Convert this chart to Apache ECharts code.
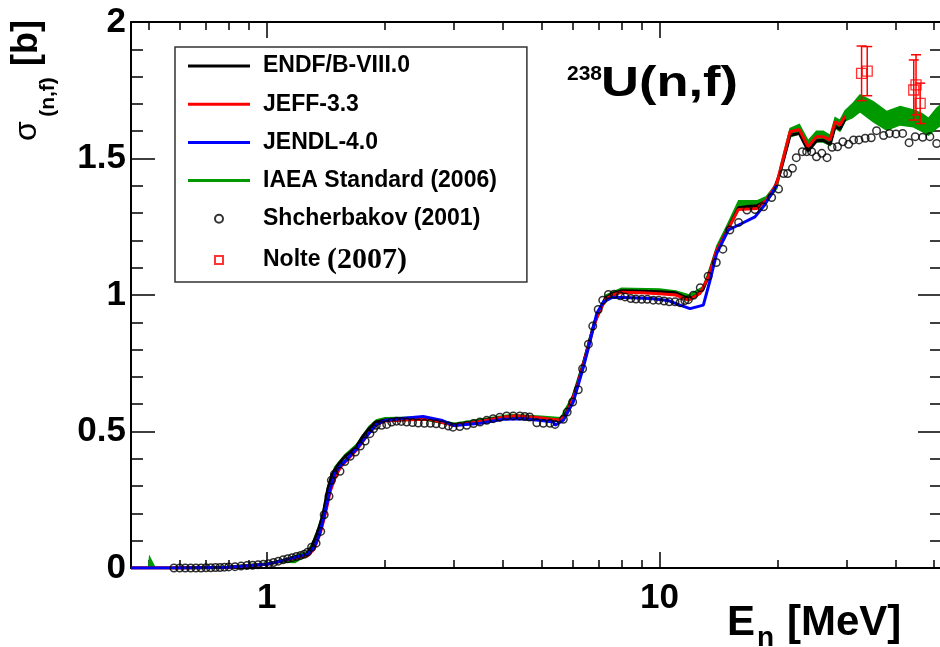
<!DOCTYPE html>
<html>
<head>
<meta charset="utf-8">
<script src="https://cdn.jsdelivr.net/npm/echarts@6/dist/echarts.min.js"></script>
<style>
  html, body { margin: 0; padding: 0; background: #fff; }
  #main { width: 940px; height: 647px; }
</style>
</head>
<body>
<div id="main"></div>
<script>
// energy range of the frame (MeV), log scale
const X_MIN = 0.451
const X_MAX = 52.4
const xMinorTicks = [0.5, 0.6, 0.7, 0.8, 0.9, 2, 3, 4, 5, 6, 7, 8, 9, 20, 30, 40, 50]

// ENDF/B-VIII.0
const endfE = [0.451,0.6,0.7,0.8,0.9,1.0,1.1,1.2,1.26,1.3,1.35,1.39,1.43,1.46,1.49,1.53,1.58,1.69,1.75,1.82,
  1.9,2.0,2.2,2.5,2.8,3.0,3.3,3.7,4.2,4.6,5.0,5.4,5.6,5.8,6.0,6.2,6.4,6.6,6.8,7.0,
  7.3,7.6,8.0,9.0,10.0,11.0,11.5,11.9,12.4,12.9,13.3,14.0,14.8,15.9,17.0,17.7,18.7,19.5,20.3,21.5,
  22.7,23.9,25.1,26.1,27.2,28.0,28.8,29.7]
const endfS = [0,0,0.001,0.003,0.008,0.014,0.028,0.042,0.05,0.075,0.135,0.195,0.29,0.335,0.36,0.385,0.408,0.443,0.48,0.51,
  0.535,0.542,0.545,0.548,0.535,0.525,0.53,0.545,0.555,0.553,0.548,0.54,0.542,0.57,0.62,0.68,0.75,0.82,0.89,0.94,
  0.99,1.005,1.016,1.014,1.012,1.008,0.995,0.985,0.998,1.02,1.066,1.164,1.231,1.32,1.325,1.327,1.345,1.38,1.45,1.585,
  1.592,1.528,1.565,1.567,1.552,1.618,1.607,1.645]

// JEFF-3.3
const jeffE = [0.451,0.6,0.8,1.0,1.1,1.2,1.27,1.32,1.37,1.41,1.45,1.5,1.55,1.6,1.7,1.8,1.9,2.0,2.3,2.6,
  3.0,3.5,4.0,4.3,4.8,5.3,5.6,5.8,6.0,6.2,6.4,6.6,6.8,7.0,7.3,7.6,8.0,9.0,10.0,11.0,
  11.84,12.68,13.31,13.98,14.83,15.87,17.7,18.75,19.9,20.3,21.5,22.7,23.9,25.1,26.1,27.2,28.0,28.8,29.7]
const jeffS = [0,0,0.003,0.014,0.026,0.038,0.045,0.07,0.13,0.2,0.28,0.34,0.375,0.395,0.435,0.485,0.525,0.538,0.543,0.545,
  0.522,0.537,0.552,0.558,0.552,0.545,0.542,0.565,0.615,0.675,0.745,0.815,0.885,0.935,0.985,1.0,1.01,1.008,1.005,1.0,
  0.981,1.006,1.066,1.164,1.231,1.313,1.317,1.348,1.41,1.458,1.598,1.606,1.543,1.58,1.58,1.568,1.635,1.623,1.656]

// JENDL-4.0
const jendlE = [0.451,0.6,0.8,1.0,1.1,1.2,1.27,1.32,1.36,1.4,1.45,1.49,1.53,1.6,1.7,1.8,1.9,2.0,2.2,2.5,
  2.8,3.0,3.5,4.0,4.5,5.0,5.37,5.42,5.69,6.03,6.4,6.6,6.92,7.2,7.6,8.5,9.5,10.5,11.28,11.96,
  12.93,13.45,13.98,14.97,16.19,17.5,18.5,19.9]
const jendlS = [0,0,0.003,0.014,0.027,0.042,0.05,0.075,0.12,0.19,0.29,0.345,0.37,0.398,0.44,0.485,0.525,0.54,0.548,0.555,
  0.54,0.522,0.53,0.545,0.547,0.54,0.535,0.523,0.541,0.608,0.736,0.81,0.932,0.975,0.992,0.99,0.987,0.98,0.963,0.95,
  0.963,1.054,1.152,1.238,1.262,1.286,1.329,1.403]

// IAEA Standard (2006), band low / high
const iaeaE = [0.5,0.503,0.52,0.6,0.8,1.0,1.1,1.18,1.26,1.3,1.35,1.39,1.43,1.49,1.58,1.69,1.82,1.9,2.0,2.5,
  3.0,3.7,4.2,5.0,5.6,6.0,6.4,6.8,7.3,8.0,10.0,11.0,11.9,12.9,13.3,14.0,14.8,15.9,17.7,18.7,
  19.9,20.3,21.5,22.7,23.9,25.1,26.1,27.2,28.0,28.8,29.7,31.0,32.4,35.0,37.9,41.0,44.3,46.5,48.4,50.8,52.4]
const iaeaLow = [0,0,0,0,0.002,0.012,0.022,0.02,0.045,0.07,0.13,0.19,0.285,0.355,0.403,0.44,0.505,0.53,0.538,0.543,
  0.522,0.54,0.55,0.545,0.538,0.615,0.745,0.885,0.985,1.012,1.008,1.002,0.98,1.015,1.06,1.16,1.23,1.315,1.322,1.34,
  1.39,1.445,1.58,1.59,1.525,1.56,1.56,1.548,1.612,1.6,1.638,1.65,1.672,1.635,1.604,1.623,1.616,1.60,1.586,1.611,1.625]
const iaeaHigh = [0,0.04,0,0.002,0.006,0.018,0.03,0.045,0.058,0.085,0.145,0.205,0.3,0.37,0.415,0.452,0.518,0.542,0.55,0.553,
  0.53,0.55,0.562,0.556,0.55,0.63,0.76,0.9,1.0,1.025,1.022,1.015,1.0,1.03,1.08,1.18,1.25,1.345,1.345,1.36,
  1.41,1.47,1.61,1.625,1.565,1.6,1.6,1.585,1.65,1.64,1.675,1.70,1.733,1.708,1.672,1.69,1.678,1.665,1.647,1.684,1.70]

// Shcherbakov (2001)
const shchE = [0.58,0.60,0.62,0.64,0.66,0.68,0.70,0.72,0.74,0.76,
  0.78,0.80,0.83,0.86,0.89,0.92,0.95,0.98,1.01,1.04,
  1.07,1.10,1.13,1.16,1.19,1.22,1.245,1.27,1.30,1.335,
  1.372,1.40,1.44,1.46,1.486,1.536,1.58,1.63,1.68,1.73,
  1.78,1.83,1.87,1.90,1.96,2.02,2.08,2.14,2.20,2.27,
  2.35,2.43,2.52,2.61,2.70,2.80,2.90,2.98,3.10,3.23,
  3.36,3.49,3.63,3.77,3.92,4.08,4.24,4.41,4.54,4.67,
  4.87,5.06,5.26,5.42,5.69,5.82,6.01,6.21,6.37,6.59,
  6.76,6.98,7.17,7.41,7.66,7.94,8.17,8.45,8.71,9.01,
  9.31,9.64,9.95,10.27,10.59,10.95,11.28,11.60,11.84,12.20,
  12.70,13.30,13.95,14.50,15.10,15.90,16.70,17.50,18.40,19.30,
  20.10,20.70,21.20,21.80,22.30,23.10,23.70,24.40,25.10,25.90,
  26.70,27.50,28.40,29.30,30.30,31.20,32.20,33.40,34.60,35.70,
  37.20,38.50,40.00,41.60,43.20,44.80,46.80,48.80,50.80]
const shchS = [0,0,0,0,0,0,0.001,0.001,0.002,0.002,
  0.003,0.004,0.005,0.007,0.009,0.010,0.012,0.014,0.016,0.020,
  0.025,0.030,0.034,0.038,0.042,0.046,0.050,0.058,0.076,0.091,
  0.134,0.195,0.263,0.321,0.343,0.354,0.390,0.409,0.425,0.447,
  0.465,0.492,0.510,0.523,0.523,0.526,0.535,0.538,0.537,0.535,
  0.533,0.531,0.530,0.530,0.528,0.525,0.520,0.516,0.518,0.523,
  0.529,0.535,0.541,0.547,0.552,0.557,0.557,0.557,0.555,0.553,
  0.532,0.530,0.530,0.526,0.545,0.571,0.608,0.653,0.730,0.820,
  0.886,0.947,0.981,1.002,1.003,0.997,0.993,0.987,0.985,0.984,
  0.984,0.981,0.981,0.978,0.975,0.975,0.972,0.980,0.983,0.999,
  1.027,1.069,1.119,1.168,1.238,1.266,1.311,1.313,1.323,1.357,
  1.388,1.445,1.445,1.464,1.503,1.525,1.525,1.525,1.506,1.519,
  1.503,1.541,1.543,1.561,1.552,1.568,1.568,1.574,1.576,1.602,
  1.584,1.592,1.590,1.592,1.558,1.580,1.578,1.580,1.555]

// Nolte (2007)
const nolteE = [32.7, 33.8, 44.4, 45.0, 46.1]
const nolteS = [1.812, 1.82, 1.751, 1.77, 1.702]
const nolteErr = [0.10, 0.09, 0.11, 0.11, 0.074]

const FONT = 'Liberation Sans'
const GREEN = '#009a00'
const RED = '#ff0000'
const BLUE = '#0000ff'
const LINE_ICON = 'path://M0,0H62V3H0Z'

function pairs(xs, ys) {
  return xs.map((x, i) => [x, ys[i]])
}

function lineSeries(name, xs, ys, color, z) {
  return {
    type: 'line',
    name: name,
    data: pairs(xs, ys),
    symbol: 'none',
    showSymbol: false,
    z: z,
    lineStyle: { color: color, width: 3 },
    itemStyle: { color: color }
  }
}

const frameLine = { show: true, onZero: false, lineStyle: { color: '#000', width: 2 } }
const noLine = { show: false, onZero: false }

const chart = echarts.init(document.getElementById('main'))

const option = {
  animation: false,
  backgroundColor: '#fff',
  grid: { left: 131, top: 22, width: 811, height: 546, containLabel: false, outerBoundsMode: 'none' },
  xAxis: [
    {
      type: 'log', position: 'bottom', min: X_MIN, max: X_MAX,
      axisLine: frameLine,
      axisTick: { show: true, inside: true, length: 16, lineStyle: { color: '#000', width: 1.5 } },
      splitLine: { show: false },
      axisLabel: {
        fontFamily: FONT, fontWeight: 'bold', fontSize: 35, color: '#000', margin: 13,
        formatter: function (v) {
          const l = Math.log10(v)
          return Math.abs(l - Math.round(l)) < 1e-6 ? String(Math.round(v)) : ''
        }
      }
    },
    {
      type: 'log', position: 'top', min: X_MIN, max: X_MAX,
      axisLine: frameLine,
      axisTick: { show: true, inside: true, length: 16, lineStyle: { color: '#000', width: 1.5 } },
      splitLine: { show: false },
      axisLabel: { show: false }
    },
    {
      type: 'value', position: 'bottom', min: Math.log10(X_MIN), max: Math.log10(X_MAX),
      axisLine: noLine,
      axisTick: { show: true, inside: true, length: 8, customValues: xMinorTicks.map(Math.log10), lineStyle: { color: '#000', width: 1.5 } },
      splitLine: { show: false },
      axisLabel: { show: false }
    },
    {
      type: 'value', position: 'top', min: Math.log10(X_MIN), max: Math.log10(X_MAX),
      axisLine: noLine,
      axisTick: { show: true, inside: true, length: 8, customValues: xMinorTicks.map(Math.log10), lineStyle: { color: '#000', width: 1.5 } },
      splitLine: { show: false },
      axisLabel: { show: false }
    }
  ],
  yAxis: [
    {
      type: 'value', position: 'left', min: 0, max: 2, interval: 0.5,
      axisLine: frameLine,
      axisTick: { show: true, inside: true, length: 24, lineStyle: { color: '#000', width: 1.5 } },
      minorTick: { show: true, splitNumber: 5, length: 12, lineStyle: { color: '#000', width: 1.5 } },
      splitLine: { show: false },
      axisLabel: { fontFamily: FONT, fontWeight: 'bold', fontSize: 35, color: '#000', margin: 5 }
    },
    {
      type: 'value', position: 'right', min: 0, max: 2, interval: 0.5,
      axisLine: frameLine,
      axisTick: { show: true, inside: true, length: 24, lineStyle: { color: '#000', width: 1.5 } },
      minorTick: { show: true, splitNumber: 5, length: 12, lineStyle: { color: '#000', width: 1.5 } },
      splitLine: { show: false },
      axisLabel: { show: false }
    }
  ],
  legend: {
    orient: 'vertical',
    left: 175, top: 47,
    padding: [7, 30, 7, 13],
    itemWidth: 62, itemHeight: 8, itemGap: 14.2,
    borderColor: '#333', borderWidth: 1.5,
    backgroundColor: '#fff',
    selectedMode: false,
    textStyle: {
      fontFamily: FONT, fontWeight: 'bold', fontSize: 23, color: '#000', lineHeight: 24,
      padding: [0, 0, 0, 8],
      rich: {
        yr: { fontFamily: 'Liberation Serif', fontWeight: 'bold', fontSize: 30, lineHeight: 24, color: '#000' }
      }
    },
    formatter: function (name) {
      return name === 'Nolte (2007)' ? 'Nolte {yr|(2007)}' : name
    },
    data: [
      { name: 'ENDF/B-VIII.0', icon: LINE_ICON, itemStyle: { color: '#000', borderWidth: 0 } },
      { name: 'JEFF-3.3', icon: LINE_ICON, itemStyle: { color: RED, borderWidth: 0 } },
      { name: 'JENDL-4.0', icon: LINE_ICON, itemStyle: { color: BLUE, borderWidth: 0 } },
      { name: 'IAEA Standard (2006)', icon: LINE_ICON, itemStyle: { color: GREEN, borderWidth: 0 } },
      { name: 'Shcherbakov (2001)', icon: 'circle' },
      { name: 'Nolte (2007)', icon: 'path://M0,0H10V10H0Z' }
    ]
  },
  series: [
    {
      type: 'custom',
      name: 'IAEA Standard (2006)',
      data: iaeaE.map((e, i) => [e, iaeaLow[i], iaeaHigh[i]]),
      encode: { x: 0, y: [1, 2] },
      itemStyle: { color: GREEN },
      z: 1,
      renderItem: function (params, api) {
        if (params.dataIndex !== 0) return null
        const pts = []
        for (let i = 0; i < iaeaE.length; i++) pts.push(api.coord([iaeaE[i], iaeaHigh[i]]))
        for (let i = iaeaE.length - 1; i >= 0; i--) pts.push(api.coord([iaeaE[i], iaeaLow[i]]))
        return { type: 'polygon', shape: { points: pts }, style: { fill: GREEN, stroke: GREEN, lineWidth: 1.5 } }
      }
    },
    lineSeries('ENDF/B-VIII.0', endfE, endfS, '#000', 2),
    lineSeries('JEFF-3.3', jeffE, jeffS, RED, 3),
    lineSeries('JENDL-4.0', jendlE, jendlS, BLUE, 4),
    {
      type: 'scatter',
      name: 'Shcherbakov (2001)',
      data: pairs(shchE, shchS),
      symbol: 'circle', symbolSize: 7.5,
      z: 5,
      itemStyle: { color: 'rgba(255,255,255,0)', borderColor: '#000', borderWidth: 1.5 }
    },
    {
      type: 'custom',
      name: 'Nolte error',
      data: nolteE.map((e, i) => [e, nolteS[i] - nolteErr[i], nolteS[i] + nolteErr[i]]),
      encode: { x: 0, y: [1, 2] },
      z: 6,
      renderItem: function (params, api) {
        const lo = api.coord([api.value(0), api.value(1)])
        const hi = api.coord([api.value(0), api.value(2)])
        const st = { stroke: RED, lineWidth: 1.5 }
        return {
          type: 'group',
          children: [
            { type: 'line', shape: { x1: lo[0], y1: lo[1], x2: hi[0], y2: hi[1] }, style: st },
            { type: 'line', shape: { x1: lo[0] - 5, y1: lo[1], x2: lo[0] + 5, y2: lo[1] }, style: st },
            { type: 'line', shape: { x1: hi[0] - 5, y1: hi[1], x2: hi[0] + 5, y2: hi[1] }, style: st }
          ]
        }
      }
    },
    {
      type: 'scatter',
      name: 'Nolte (2007)',
      data: pairs(nolteE, nolteS),
      symbol: 'rect', symbolSize: 10,
      z: 7,
      itemStyle: { color: 'rgba(255,255,255,0)', borderColor: RED, borderWidth: 1.3 }
    }
  ],
  graphic: [
    // title
    { type: 'text', x: 567, y: 74, style: { text: '238', font: 'bold 21px ' + FONT, fill: '#000', align: 'left', verticalAlign: 'middle' } },
    { type: 'text', x: 601, y: 84, scaleX: 1.25, style: { text: 'U(n,f)', font: 'bold 42px ' + FONT, fill: '#000', align: 'left', verticalAlign: 'middle' } },
    // x axis title
    { type: 'text', x: 727, y: 623, style: { text: 'E', font: 'bold 42px ' + FONT, fill: '#000', align: 'left', verticalAlign: 'middle' } },
    { type: 'text', x: 757, y: 638, style: { text: 'n', font: 'bold 28px ' + FONT, fill: '#000', align: 'left', verticalAlign: 'middle' } },
    { type: 'text', x: 787, y: 623, style: { text: '[MeV]', font: 'bold 42px ' + FONT, fill: '#000', align: 'left', verticalAlign: 'middle' } },
    // y axis title
    { type: 'text', x: 27, y: 131, rotation: Math.PI / 2, style: { text: 'σ', font: '32px ' + FONT, fill: '#000', align: 'center', verticalAlign: 'middle' } },
    { type: 'text', x: 48, y: 97, rotation: Math.PI / 2, style: { text: '(n,f)', font: 'bold 21px ' + FONT, fill: '#000', align: 'center', verticalAlign: 'middle' } },
    { type: 'text', x: 27, y: 43, rotation: Math.PI / 2, style: { text: '[b]', font: 'bold 36px ' + FONT, fill: '#000', align: 'center', verticalAlign: 'middle' } }
  ]
}

chart.setOption(option)
</script>
</body>
</html>
